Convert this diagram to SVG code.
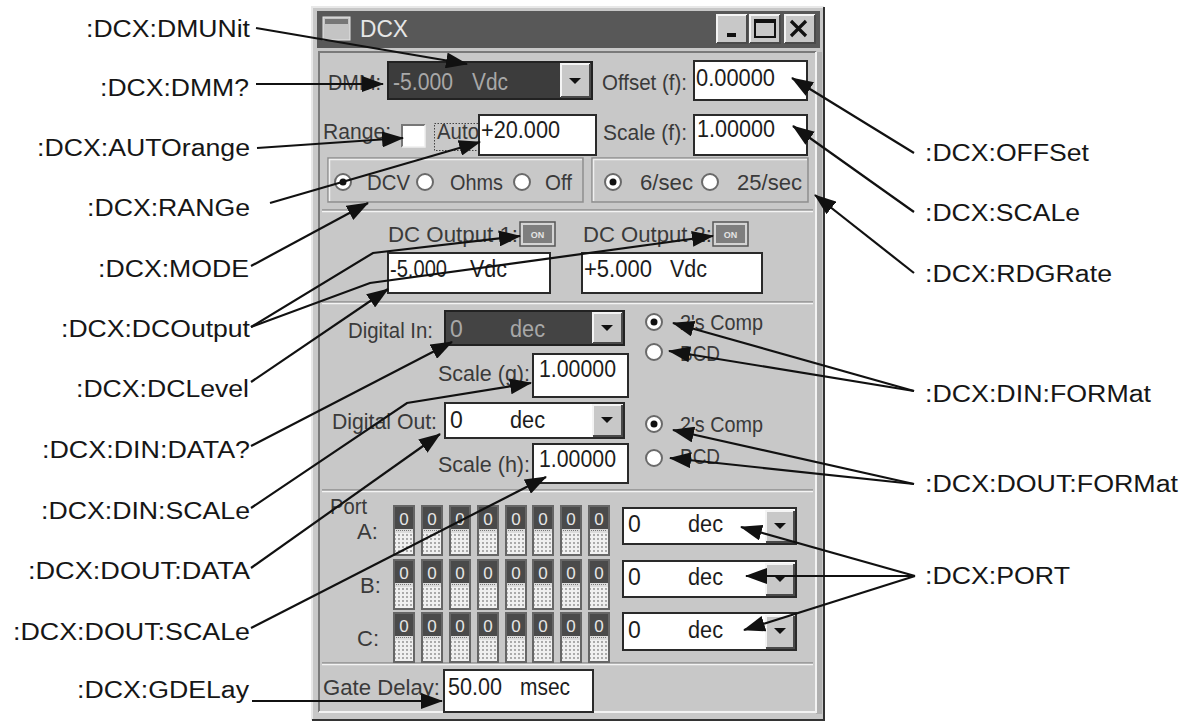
<svg xmlns="http://www.w3.org/2000/svg" width="1194" height="721" viewBox="0 0 1194 721">
<defs>
<style>
.lbl{font-family:"Liberation Sans",Arial,Helvetica,sans-serif;font-size:23px;fill:#161616}
.ui{font-family:"Liberation Sans",Arial,sans-serif;font-size:22px;fill:#3a3a3a}
.val{font-family:"Liberation Sans",Arial,sans-serif;font-size:23px;fill:#1c1c1c}
.dark{fill:#a8a8a8}
.box{fill:#fff;stroke:#2a2a2a;stroke-width:2}
.sep1{stroke:#8e8e8e;stroke-width:1.5}
.sep2{stroke:#f4f4f4;stroke-width:1.5}
.hi{fill:none;stroke:#f4f4f4;stroke-width:2}
.sh{fill:none;stroke:#4a4a4a;stroke-width:2}
.face{fill:#c8c8c8}
.radio{fill:#fff;stroke:#6a6a6a;stroke-width:2}
.dot{fill:#111}
.grp{fill:none;stroke:#8e8e8e;stroke-width:1.5}
.conn{fill:none;stroke:#111;stroke-width:2.2;marker-end:url(#ah)}
</style>
<marker id="ah" viewBox="0 0 22 16" markerWidth="22" markerHeight="16" refX="21" refY="8" orient="auto" markerUnits="userSpaceOnUse">
  <path d="M0,0 L22,8 L0,16 Z" fill="#111"/>
</marker>
<pattern id="dots" width="4" height="4" patternUnits="userSpaceOnUse">
  <rect width="4" height="4" fill="#f0f0f0"/>
  <circle cx="2" cy="2" r="0.9" fill="#8a8a8a"/>
</pattern>
<path id="tri" d="M-6,-3 L6,-3 L0,3 Z" fill="#111"/>
<!-- one bit toggle of a port -->
<g id="bit">
  <rect x="0" y="0" width="22" height="51" fill="#666"/>
  <rect x="2" y="2" width="18" height="22" fill="#4a4a4a"/>
  <text x="11" y="20" text-anchor="middle" font-family="Liberation Sans,Arial,sans-serif" font-size="17" fill="#e6e6e6">0</text>
  <rect x="2" y="24" width="18" height="4" fill="#dcdcdc"/>
  <path d="M3,25.5 H19" stroke="#777" stroke-width="1" stroke-dasharray="1,1"/>
  <rect x="2" y="28" width="18" height="21" fill="url(#dots)"/>
</g>
</defs>

<rect width="1194" height="721" fill="#fff"/>

<!-- DCX window -->
<g id="window">
  <rect x="312" y="7" width="512" height="713" fill="#c8c8c8"/>
  <path d="M312,720 V7 H824" fill="none" stroke="#e8e8e8" stroke-width="2"/>
  <path d="M824,7 V720 H312" fill="none" stroke="#333" stroke-width="2"/>
  <rect x="816" y="52" width="6" height="662" fill="#b0b0b0"/>
  <!-- title bar -->
  <rect x="317" y="11" width="503" height="37" fill="#585858"/>
  <rect x="323" y="17" width="27" height="23" fill="#c4c4c4" stroke="#e6e6e6" stroke-width="1"/>
  <rect x="325" y="19" width="23" height="5" fill="#777"/>
  <text x="360" y="37" font-family="Liberation Sans,Arial,sans-serif" font-size="23" fill="#e6e6e6" textLength="48" lengthAdjust="spacingAndGlyphs">DCX</text>
  <g id="title-buttons">
    <rect x="717" y="15" width="30" height="28" class="face"/>
    <path d="M717,43 V15 H747" class="hi"/><path d="M747,15 V43 H717" class="sh"/>
    <rect x="727" y="33" width="9" height="4" fill="#111"/>
    <rect x="750" y="15" width="30" height="28" class="face"/>
    <path d="M750,43 V15 H780" class="hi"/><path d="M780,15 V43 H750" class="sh"/>
    <rect x="755" y="20" width="20" height="17" fill="none" stroke="#111" stroke-width="2"/>
    <rect x="755" y="20" width="20" height="3" fill="#111"/>
    <rect x="785" y="15" width="30" height="28" class="face"/>
    <path d="M785,43 V15 H815" class="hi"/><path d="M815,15 V43 H785" class="sh"/>
    <path d="M791,21 L806,36 M806,21 L791,36" stroke="#111" stroke-width="3.2"/>
  </g>
  <!-- client frame -->
  <path d="M319,712 V52 H816" fill="none" stroke="#7a7a7a" stroke-width="2"/>
  <path d="M816,52 V712 H319" fill="none" stroke="#f2f2f2" stroke-width="2"/>

  <!-- DMM row -->
  <g id="dmm">
    <text x="328" y="90" class="ui" textLength="53" lengthAdjust="spacingAndGlyphs">DMM:</text>
    <rect x="388" y="62" width="204" height="37" fill="#3c3c3c" stroke="#222" stroke-width="2"/>
    <text x="393" y="90" class="val dark" textLength="60" lengthAdjust="spacingAndGlyphs">-5.000</text>
    <text x="472" y="90" class="val dark" textLength="36" lengthAdjust="spacingAndGlyphs">Vdc</text>
    <rect x="561" y="64" width="29" height="33" class="face"/>
    <path d="M561,97 V64 H590" class="hi"/><path d="M590,64 V97 H561" class="sh"/>
    <use href="#tri" x="575" y="81"/>
  </g>
  <g id="offset">
    <text x="602" y="90" class="ui" textLength="85" lengthAdjust="spacingAndGlyphs">Offset (f):</text>
    <rect x="694" y="61" width="113" height="39" class="box"/>
    <text x="696" y="86" class="val" textLength="79" lengthAdjust="spacingAndGlyphs">0.00000</text>
  </g>

  <!-- range row -->
  <g id="range">
    <text x="323" y="139" class="ui" textLength="68" lengthAdjust="spacingAndGlyphs">Range:</text>
    <rect x="402" y="125" width="23" height="22" fill="#fff"/>
    <path d="M402,147 V125 H425" fill="none" stroke="#777" stroke-width="2"/>
    <path d="M425,125 V147 H402" fill="none" stroke="#eee" stroke-width="1.5"/>
    <text x="437" y="139" class="ui" textLength="42" lengthAdjust="spacingAndGlyphs">Auto</text>
    <rect x="434.5" y="123.5" width="45" height="27" fill="none" stroke="#444" stroke-width="1" stroke-dasharray="1.5,1.5"/>
    <rect x="479" y="115" width="117" height="40" class="box"/>
    <text x="481" y="138" class="val" textLength="79" lengthAdjust="spacingAndGlyphs">+20.000</text>
  </g>
  <g id="scale-f">
    <text x="603" y="140" class="ui" textLength="84" lengthAdjust="spacingAndGlyphs">Scale (f):</text>
    <rect x="694" y="115" width="113" height="40" class="box"/>
    <text x="697" y="137" class="val" textLength="78" lengthAdjust="spacingAndGlyphs">1.00000</text>
  </g>

  <!-- mode and rate groups -->
  <g id="mode">
    <rect x="328" y="158" width="255" height="44" class="grp"/>
    <path d="M329.5,201 V159.5 H582" fill="none" stroke="#f0f0f0" stroke-width="1.5"/>
    <circle cx="343" cy="182" r="8" class="radio"/><circle cx="343" cy="182" r="3.5" class="dot"/>
    <text x="367" y="190" class="ui" textLength="43" lengthAdjust="spacingAndGlyphs">DCV</text>
    <circle cx="425" cy="182" r="8" class="radio"/>
    <text x="450" y="190" class="ui" textLength="53" lengthAdjust="spacingAndGlyphs">Ohms</text>
    <circle cx="522" cy="182" r="8" class="radio"/>
    <text x="545" y="190" class="ui" textLength="27" lengthAdjust="spacingAndGlyphs">Off</text>
  </g>
  <g id="rate">
    <rect x="592" y="158" width="216" height="44" class="grp"/>
    <path d="M593.5,201 V159.5 H807" fill="none" stroke="#f0f0f0" stroke-width="1.5"/>
    <circle cx="613" cy="182" r="8" class="radio"/><circle cx="613" cy="182" r="3.5" class="dot"/>
    <text x="640" y="190" class="ui" textLength="53" lengthAdjust="spacingAndGlyphs">6/sec</text>
    <circle cx="710" cy="182" r="8" class="radio"/>
    <text x="737" y="190" class="ui" textLength="65" lengthAdjust="spacingAndGlyphs">25/sec</text>
  </g>

  <!-- separators -->
  <g id="separators">
    <path d="M322,210 H813 M322,302 H813 M322,490 H813 M322,663 H813" class="sep1"/>
    <path d="M322,211.5 H813 M322,303.5 H813 M322,491.5 H813 M322,664.5 H813" class="sep2"/>
  </g>

  <!-- DC outputs -->
  <g id="dc-output-1">
    <text x="388" y="242" class="ui" textLength="130" lengthAdjust="spacingAndGlyphs">DC Output 1:</text>
    <rect x="520" y="222" width="35" height="24" fill="#d4d4d4" stroke="#555" stroke-width="1.5"/>
    <rect x="523" y="225" width="29" height="18" fill="#7e7e7e"/>
    <text x="537.5" y="238" text-anchor="middle" font-family="Liberation Sans,Arial,sans-serif" font-size="9" font-weight="bold" fill="#e4e4e4">ON</text>
    <rect x="388" y="253" width="162" height="40" class="box"/>
    <text x="390" y="277" class="val" textLength="57" lengthAdjust="spacingAndGlyphs">-5.000</text>
    <text x="470" y="277" class="val" textLength="37" lengthAdjust="spacingAndGlyphs">Vdc</text>
  </g>
  <g id="dc-output-2">
    <text x="583" y="242" class="ui" textLength="129" lengthAdjust="spacingAndGlyphs">DC Output 2:</text>
    <rect x="713" y="222" width="35" height="24" fill="#d4d4d4" stroke="#555" stroke-width="1.5"/>
    <rect x="716" y="225" width="29" height="18" fill="#7e7e7e"/>
    <text x="730.5" y="238" text-anchor="middle" font-family="Liberation Sans,Arial,sans-serif" font-size="9" font-weight="bold" fill="#e4e4e4">ON</text>
    <rect x="582" y="253" width="180" height="40" class="box"/>
    <text x="584" y="277" class="val" textLength="68" lengthAdjust="spacingAndGlyphs">+5.000</text>
    <text x="670" y="277" class="val" textLength="37" lengthAdjust="spacingAndGlyphs">Vdc</text>
  </g>

  <!-- digital in -->
  <g id="digital-in">
    <text x="348" y="338" class="ui" textLength="85" lengthAdjust="spacingAndGlyphs">Digital In:</text>
    <rect x="445" y="311" width="179" height="34" fill="#444" stroke="#222" stroke-width="2"/>
    <text x="450" y="337" class="val dark">0</text>
    <text x="510" y="337" class="val dark" textLength="35" lengthAdjust="spacingAndGlyphs">dec</text>
    <rect x="593" y="313" width="29" height="30" class="face"/>
    <path d="M593,343 V313 H622" class="hi"/><path d="M622,313 V343 H593" class="sh"/>
    <use href="#tri" x="607" y="328"/>
    <text x="438" y="381" class="ui" textLength="92" lengthAdjust="spacingAndGlyphs">Scale (g):</text>
    <rect x="533" y="354" width="95" height="43" class="box"/>
    <text x="539" y="377" class="val" textLength="77" lengthAdjust="spacingAndGlyphs">1.00000</text>
    <circle cx="654" cy="322" r="8" class="radio"/><circle cx="654" cy="322" r="3.5" class="dot"/>
    <text x="680" y="330" class="ui" textLength="83" lengthAdjust="spacingAndGlyphs">2's Comp</text>
    <circle cx="654" cy="352" r="8" class="radio"/>
    <text x="680" y="361" class="ui" textLength="40" lengthAdjust="spacingAndGlyphs">BCD</text>
  </g>

  <!-- digital out -->
  <g id="digital-out">
    <text x="332" y="429" class="ui" textLength="105" lengthAdjust="spacingAndGlyphs">Digital Out:</text>
    <rect x="445" y="403" width="179" height="35" class="box"/>
    <text x="450" y="428" class="val">0</text>
    <text x="510" y="428" class="val" textLength="35" lengthAdjust="spacingAndGlyphs">dec</text>
    <rect x="593" y="405" width="29" height="31" class="face"/>
    <path d="M593,436 V405 H622" class="hi"/><path d="M622,405 V436 H593" class="sh"/>
    <use href="#tri" x="607" y="420"/>
    <text x="438" y="472" class="ui" textLength="92" lengthAdjust="spacingAndGlyphs">Scale (h):</text>
    <rect x="533" y="444" width="95" height="39" class="box"/>
    <text x="539" y="467" class="val" textLength="77" lengthAdjust="spacingAndGlyphs">1.00000</text>
    <circle cx="654" cy="424" r="8" class="radio"/><circle cx="654" cy="424" r="3.5" class="dot"/>
    <text x="680" y="432" class="ui" textLength="83" lengthAdjust="spacingAndGlyphs">2's Comp</text>
    <circle cx="654" cy="458" r="8" class="radio"/>
    <text x="680" y="464" class="ui" textLength="40" lengthAdjust="spacingAndGlyphs">BCD</text>
  </g>

  <!-- ports -->
  <g id="ports">
    <text x="330" y="514" class="ui" textLength="37" lengthAdjust="spacingAndGlyphs">Port</text>
    <text x="357" y="539" class="ui">A:</text>
    <text x="360" y="593" class="ui">B:</text>
    <text x="357" y="646" class="ui">C:</text>
    <use href="#bit" x="393" y="505"/><use href="#bit" x="421" y="505"/><use href="#bit" x="449" y="505"/><use href="#bit" x="477" y="505"/>
    <use href="#bit" x="505" y="505"/><use href="#bit" x="532" y="505"/><use href="#bit" x="560" y="505"/><use href="#bit" x="588" y="505"/>
    <use href="#bit" x="393" y="559"/><use href="#bit" x="421" y="559"/><use href="#bit" x="449" y="559"/><use href="#bit" x="477" y="559"/>
    <use href="#bit" x="505" y="559"/><use href="#bit" x="532" y="559"/><use href="#bit" x="560" y="559"/><use href="#bit" x="588" y="559"/>
    <use href="#bit" x="393" y="612"/><use href="#bit" x="421" y="612"/><use href="#bit" x="449" y="612"/><use href="#bit" x="477" y="612"/>
    <use href="#bit" x="505" y="612"/><use href="#bit" x="532" y="612"/><use href="#bit" x="560" y="612"/><use href="#bit" x="588" y="612"/>
    <!-- port value combos -->
    <rect x="623" y="508" width="173" height="36" class="box"/>
    <text x="628" y="532" class="val">0</text>
    <text x="688" y="532" class="val" textLength="35" lengthAdjust="spacingAndGlyphs">dec</text>
    <rect x="766" y="511" width="28" height="31" class="face"/>
    <path d="M766,542 V511 H794" class="hi"/><path d="M794,511 V542 H766" class="sh"/>
    <use href="#tri" x="780" y="526"/>
    <rect x="623" y="561" width="173" height="36" class="box"/>
    <text x="628" y="585" class="val">0</text>
    <text x="688" y="585" class="val" textLength="35" lengthAdjust="spacingAndGlyphs">dec</text>
    <rect x="766" y="564" width="28" height="31" class="face"/>
    <path d="M766,595 V564 H794" class="hi"/><path d="M794,564 V595 H766" class="sh"/>
    <use href="#tri" x="780" y="579"/>
    <rect x="623" y="613" width="173" height="37" class="box"/>
    <text x="628" y="638" class="val">0</text>
    <text x="688" y="638" class="val" textLength="35" lengthAdjust="spacingAndGlyphs">dec</text>
    <rect x="766" y="616" width="28" height="32" class="face"/>
    <path d="M766,648 V616 H794" class="hi"/><path d="M794,616 V648 H766" class="sh"/>
    <use href="#tri" x="780" y="631"/>
  </g>

  <!-- gate delay -->
  <g id="gate-delay">
    <text x="323" y="695" class="ui" textLength="117" lengthAdjust="spacingAndGlyphs">Gate Delay:</text>
    <rect x="444" y="670" width="149" height="42" class="box"/>
    <text x="448" y="695" class="val" textLength="54" lengthAdjust="spacingAndGlyphs">50.00</text>
    <text x="520" y="695" class="val" textLength="50" lengthAdjust="spacingAndGlyphs">msec</text>
  </g>
</g>

<!-- command labels, left -->
<g id="lbl-dmunit"><text x="250" y="37" text-anchor="end" class="lbl" textLength="164" lengthAdjust="spacingAndGlyphs">:DCX:DMUNit</text></g>
<g id="lbl-dmm"><text x="249" y="96" text-anchor="end" class="lbl" textLength="149" lengthAdjust="spacingAndGlyphs">:DCX:DMM?</text></g>
<g id="lbl-autorange"><text x="250" y="156" text-anchor="end" class="lbl" textLength="213" lengthAdjust="spacingAndGlyphs">:DCX:AUTOrange</text></g>
<g id="lbl-range"><text x="250" y="216" text-anchor="end" class="lbl" textLength="163" lengthAdjust="spacingAndGlyphs">:DCX:RANGe</text></g>
<g id="lbl-mode"><text x="249" y="277" text-anchor="end" class="lbl" textLength="151" lengthAdjust="spacingAndGlyphs">:DCX:MODE</text></g>
<g id="lbl-dcoutput"><text x="250" y="337" text-anchor="end" class="lbl" textLength="189" lengthAdjust="spacingAndGlyphs">:DCX:DCOutput</text></g>
<g id="lbl-dclevel"><text x="249" y="397" text-anchor="end" class="lbl" textLength="173" lengthAdjust="spacingAndGlyphs">:DCX:DCLevel</text></g>
<g id="lbl-din-data"><text x="250" y="458" text-anchor="end" class="lbl" textLength="208" lengthAdjust="spacingAndGlyphs">:DCX:DIN:DATA?</text></g>
<g id="lbl-din-scale"><text x="250" y="519" text-anchor="end" class="lbl" textLength="209" lengthAdjust="spacingAndGlyphs">:DCX:DIN:SCALe</text></g>
<g id="lbl-dout-data"><text x="250" y="579" text-anchor="end" class="lbl" textLength="222" lengthAdjust="spacingAndGlyphs">:DCX:DOUT:DATA</text></g>
<g id="lbl-dout-scale"><text x="250" y="640" text-anchor="end" class="lbl" textLength="237" lengthAdjust="spacingAndGlyphs">:DCX:DOUT:SCALe</text></g>
<g id="lbl-gdelay"><text x="249" y="698" text-anchor="end" class="lbl" textLength="172" lengthAdjust="spacingAndGlyphs">:DCX:GDELay</text></g>

<!-- command labels, right -->
<g id="lbl-offset"><text x="925" y="161" class="lbl" textLength="164" lengthAdjust="spacingAndGlyphs">:DCX:OFFSet</text></g>
<g id="lbl-scale"><text x="925" y="221" class="lbl" textLength="155" lengthAdjust="spacingAndGlyphs">:DCX:SCALe</text></g>
<g id="lbl-rdgrate"><text x="925" y="282" class="lbl" textLength="187" lengthAdjust="spacingAndGlyphs">:DCX:RDGRate</text></g>
<g id="lbl-din-format"><text x="925" y="402" class="lbl" textLength="226" lengthAdjust="spacingAndGlyphs">:DCX:DIN:FORMat</text></g>
<g id="lbl-dout-format"><text x="925" y="492" class="lbl" textLength="253" lengthAdjust="spacingAndGlyphs">:DCX:DOUT:FORMat</text></g>
<g id="lbl-port"><text x="925" y="584" class="lbl" textLength="145" lengthAdjust="spacingAndGlyphs">:DCX:PORT</text></g>

<!-- leader arrows -->
<g id="connectors">
  <path class="conn" d="M256,28 L467,64"/>
  <path class="conn" d="M256,84 L383,84"/>
  <path class="conn" d="M257,148 L403,138"/>
  <path class="conn" d="M270,203 L480,142"/>
  <path class="conn" d="M251,266 L368,203"/>
  <path class="conn" d="M251,327 L373,253 L520,236"/>
  <path class="conn" d="M251,327 L370,283 L713,236"/>
  <path class="conn" d="M251,382 L388,289"/>
  <path class="conn" d="M251,446 L452,342"/>
  <path class="conn" d="M251,508 L407,403 L531,383"/>
  <path class="conn" d="M251,568 L440,434"/>
  <path class="conn" d="M251,628 L546,477"/>
  <path class="conn" d="M252,701 L442,701"/>
  <path class="conn" d="M914,153 L792,78"/>
  <path class="conn" d="M914,212 L793,126"/>
  <path class="conn" d="M914,273 L815,195"/>
  <path class="conn" d="M914,391 L673,323"/>
  <path class="conn" d="M914,391 L669,351"/>
  <path class="conn" d="M914,484 L673,430"/>
  <path class="conn" d="M914,484 L670,458"/>
  <path class="conn" d="M915,576 L741,527"/>
  <path class="conn" d="M915,576 L746,576"/>
  <path class="conn" d="M915,576 L744,630"/>
</g>
</svg>
